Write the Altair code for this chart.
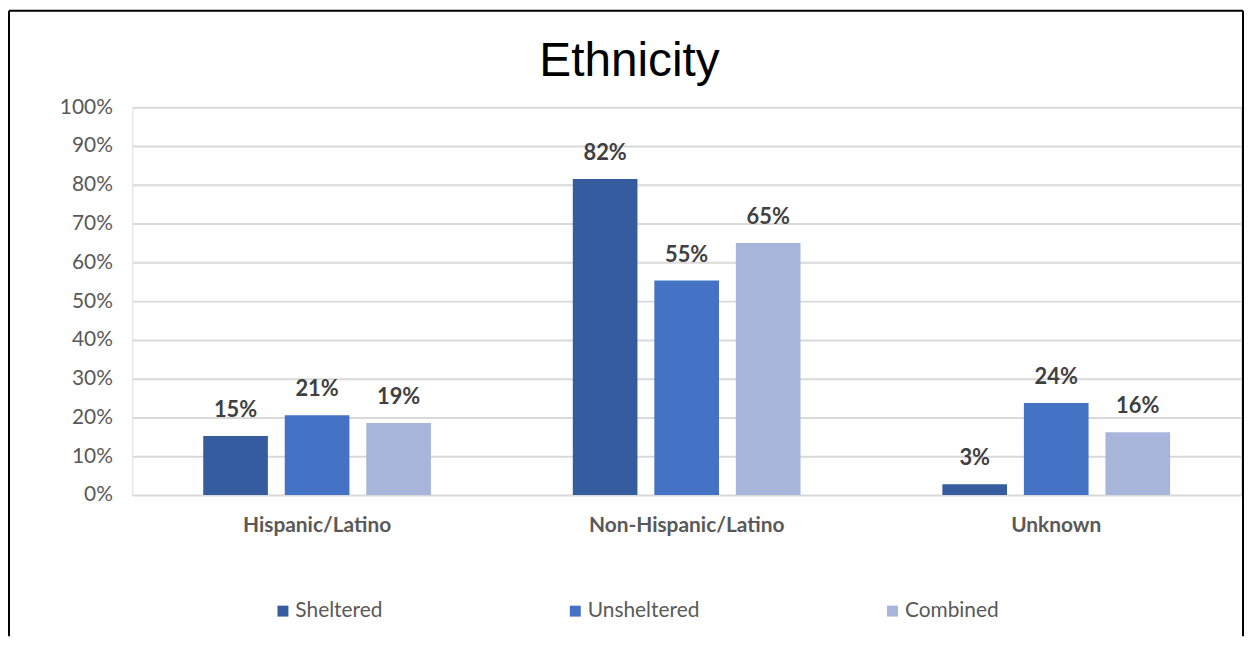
import altair as alt
import pandas as pd

categories = ["Hispanic/Latino", "Non-Hispanic/Latino", "Unknown"]
series = ["Sheltered", "Unsheltered", "Combined"]
sheltered = [0.152, 0.815, 0.028]
unsheltered = [0.206, 0.553, 0.237]
combined = [0.186, 0.650, 0.162]
colors = ["#355C9F", "#4472C4", "#A8B5DA"]
y_ticks = [0, 0.1, 0.2, 0.3, 0.4, 0.5, 0.6, 0.7, 0.8, 0.9, 1.0]
chart_title = "Ethnicity"

rows = []
for s, vals in zip(series, [sheltered, unsheltered, combined]):
    for c, v in zip(categories, vals):
        rows.append({"Ethnicity": c, "Type": s, "Value": v})
df = pd.DataFrame(rows)

FONT = "Lato"

x_enc = alt.X("Ethnicity:N", sort=categories, title=None,
              scale=alt.Scale(paddingInner=0, paddingOuter=0),
              axis=alt.Axis(labelAngle=0, labelFont=FONT, labelFontSize=21,
                            labelFontWeight="bold", labelColor="#595959",
                            labelPadding=20, labelLimit=0, ticks=False, domain=False))
xo_enc = alt.XOffset("Type:N", sort=series,
                     scale=alt.Scale(paddingInner=0.207, paddingOuter=0.87))
y_enc = alt.Y("Value:Q", title=None,
              scale=alt.Scale(domain=[0, 1], nice=False),
              axis=alt.Axis(values=y_ticks, format=".0%", labelFont=FONT,
                            labelFontSize=21, labelColor="#595959",
                            labelOverlap=False, tickCount=len(y_ticks),
                            labelPadding=20, ticks=False, domain=False,
                            gridColor="#D9D9D9", gridWidth=2))

color_enc = alt.Color("Type:N", sort=series,
                      scale=alt.Scale(domain=series, range=colors),
                      legend=alt.Legend(title=None, orient="none", direction="horizontal",
                                        legendX=141, legendY=496,
                                        symbolType="square", symbolSize=121,
                                        symbolStrokeWidth=0, labelFont=FONT,
                                        labelFontSize=21, labelColor="#595959",
                                        labelOffset=2, columnPadding=183))

bars = alt.Chart(df).mark_bar().encode(
    x=x_enc, xOffset=xo_enc, y=y_enc, color=color_enc
)

labels = alt.Chart(df).mark_text(
    font=FONT, fontSize=22, fontWeight="bold", color="#404040",
    baseline="alphabetic", dy=-19
).encode(
    x=x_enc, xOffset=xo_enc, y=y_enc,
    text=alt.Text("Value:Q", format=".0%"),
)

frame_data = alt.Data(values=[{"a": 1}])
left = alt.Chart(frame_data).mark_rule(color="black", strokeWidth=2).encode(
    x=alt.value(-124), y=alt.value(-97), y2=alt.value(532))
right = alt.Chart(frame_data).mark_rule(color="black", strokeWidth=2).encode(
    x=alt.value(1117), y=alt.value(-97), y2=alt.value(532))
top = alt.Chart(frame_data).mark_rule(color="black", strokeWidth=2).encode(
    x=alt.value(-124), x2=alt.value(1117), y=alt.value(-97))
title = alt.Chart(frame_data).mark_text(
    font="Liberation Sans", fontSize=48, color="black",
    align="center", baseline="alphabetic"
).encode(x=alt.value(500), y=alt.value(-31), text=alt.value(chart_title))

chart = alt.layer(bars, labels, left, right, top, title).properties(
    width=1115, height=390,
    padding=0,
).configure_view(stroke=None).configure(background="white")

chart.save("out.html", embed_options={"renderer": "svg", "actions": False})
